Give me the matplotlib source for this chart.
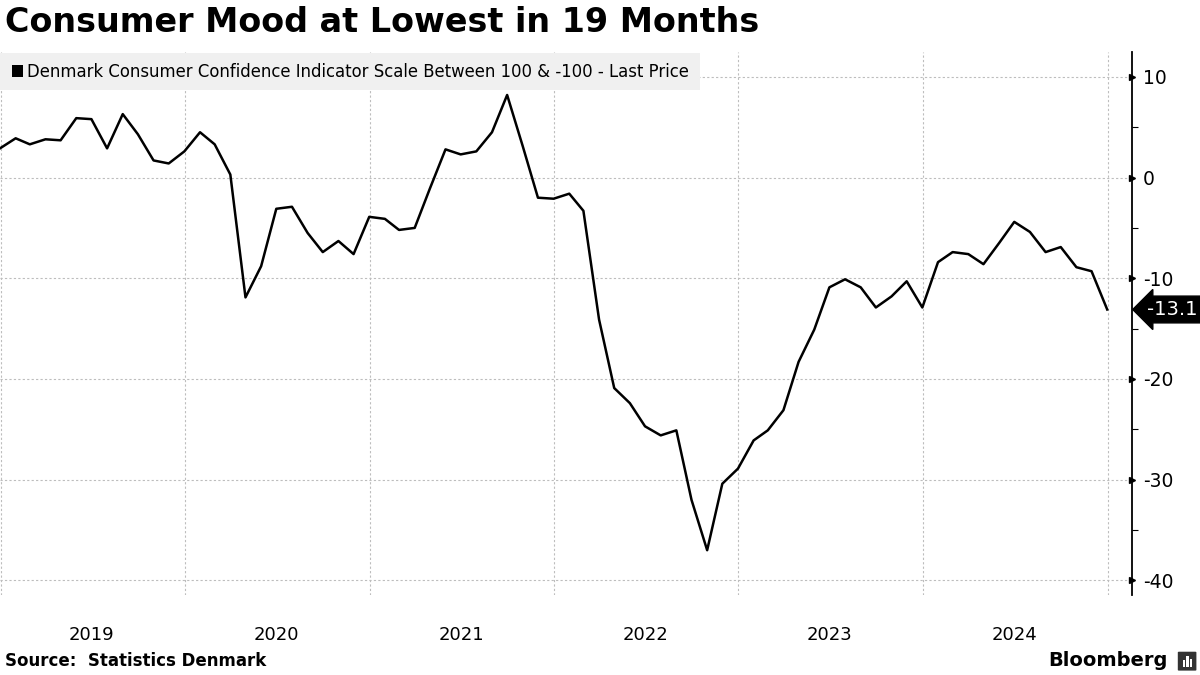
import numpy as np
import pandas as pd
import matplotlib
matplotlib.use("Agg")
import matplotlib.pyplot as plt
import matplotlib.dates as mdates
from matplotlib.patches import Rectangle, FancyBboxPatch
from matplotlib.ticker import MultipleLocator

# monthly readings, Dec 2018 .. Dec 2024 (plotted at month end)
dates = pd.date_range("2018-12-31", periods=73, freq="ME")
confidence = [
    2.9, 3.9, 3.3, 3.8, 3.7, 5.9, 5.8, 2.9, 6.3, 4.3, 1.7, 1.4,
    2.6, 4.5, 3.3, 0.3, -11.9, -8.8, -3.1, -2.9, -5.5, -7.4, -6.3, -7.6,
    -3.9, -4.1, -5.2, -5.0, -1.1, 2.8, 2.3, 2.6, 4.5, 8.2, 3.1, -2.0,
    -2.1, -1.6, -3.3, -14.1, -20.9, -22.4, -24.7, -25.6, -25.1, -32.0, -37.0, -30.4,
    -28.9, -26.1, -25.1, -23.1, -18.3, -15.1, -10.9, -10.1, -10.9, -12.9, -11.8, -10.3,
    -12.9, -8.4, -7.4, -7.6, -8.6, -6.5, -4.4, -5.4, -7.4, -6.9, -8.9, -9.3,
    -13.1,
]
y_ticks = [10, 0, -10, -20, -30, -40]

title = "Consumer Mood at Lowest in 19 Months"
legend_label = "Denmark Consumer Confidence Indicator Scale Between 100 & -100 - Last Price"
source = "Source:  Statistics Denmark"

plt.rcParams["font.family"] = ["DejaVu Sans"]
plt.rcParams["axes.unicode_minus"] = False

fig = plt.figure(figsize=(12, 6.75), dpi=100)
ax = fig.add_axes([0.0, 0.1185, 0.9433, 0.8045])

ax.plot(dates, confidence, color="black", linewidth=1.8, zorder=3)

ax.set_xlim(pd.Timestamp("2018-12-31"), pd.Timestamp("2025-02-18"))
ax.set_ylim(-41.45, 12.47)

# y axis on the right
ax.yaxis.tick_right()
ax.set_yticks(y_ticks)
ax.yaxis.set_minor_locator(MultipleLocator(5))
ax.tick_params(axis="y", which="major", length=0, pad=8, labelsize=13.5, colors="black")
ax.tick_params(axis="y", which="minor", length=4, width=0.8, direction="out")
for spine in ["top", "left", "bottom"]:
    ax.spines[spine].set_visible(False)
ax.spines["right"].set_linewidth(1.3)

# triangle tick markers on the spine
ax.plot([1.0] * len(y_ticks), y_ticks, linestyle="none", marker=">", markersize=4,
        color="black", transform=ax.get_yaxis_transform(), clip_on=False, zorder=5)

# x axis: gridlines at year starts, labels mid-year
ax.xaxis.set_major_locator(mdates.YearLocator())
ax.xaxis.set_major_formatter(plt.NullFormatter())
ax.xaxis.set_minor_locator(mdates.MonthLocator(bymonth=7, bymonthday=1))
ax.xaxis.set_minor_formatter(mdates.DateFormatter("%Y"))
ax.tick_params(axis="x", which="both", length=0)
ax.tick_params(axis="x", which="minor", pad=22, labelsize=13)

ax.grid(True, which="major", axis="both", color="#bdbdbd", linestyle=(0, (2, 2)), linewidth=0.8)
ax.set_axisbelow(True)

# legend strip
ax.add_patch(Rectangle((0.0, 0.930), 0.618, 0.068, transform=ax.transAxes,
                       facecolor="#f0f0f0", edgecolor="none", zorder=4, clip_on=False))
ax.add_patch(Rectangle((0.0103, 0.954), 0.0104, 0.022, transform=ax.transAxes,
                       facecolor="black", edgecolor="none", zorder=5, clip_on=False))
ax.text(0.0238, 0.964, legend_label, transform=ax.transAxes, fontsize=11.9,
        va="center", ha="left", color="black", zorder=6)

# last value tag
ax.annotate(f"{confidence[-1]:.1f}", xy=(1.0, confidence[-1]), xycoords=ax.get_yaxis_transform(),
            xytext=(11, 0), textcoords="offset points", ha="left", va="center",
            fontsize=14, color="white", annotation_clip=False,
            bbox=dict(boxstyle="larrow,pad=0.2", facecolor="black", edgecolor="black"))

fig.text(0.004, 0.966, title, fontsize=24, fontweight="bold", ha="left", va="center")
fig.text(0.004, 0.008, source, fontsize=12, fontweight="bold", ha="left", va="bottom")
fig.text(0.973, 0.008, "Bloomberg", fontsize=14, fontweight="bold", ha="right", va="bottom")

# small logo square
fig.patches.append(FancyBboxPatch((0.9825, 0.0075), 0.0135, 0.026, boxstyle="round,pad=0.001",
                                  transform=fig.transFigure, facecolor="#333333", edgecolor="none"))
for i, h in enumerate([0.010, 0.016, 0.012]):
    fig.patches.append(Rectangle((0.9855 + i * 0.0032, 0.012), 0.0018, h,
                                 transform=fig.transFigure, facecolor="white", edgecolor="none"))

fig.savefig("out.png", dpi=100)
